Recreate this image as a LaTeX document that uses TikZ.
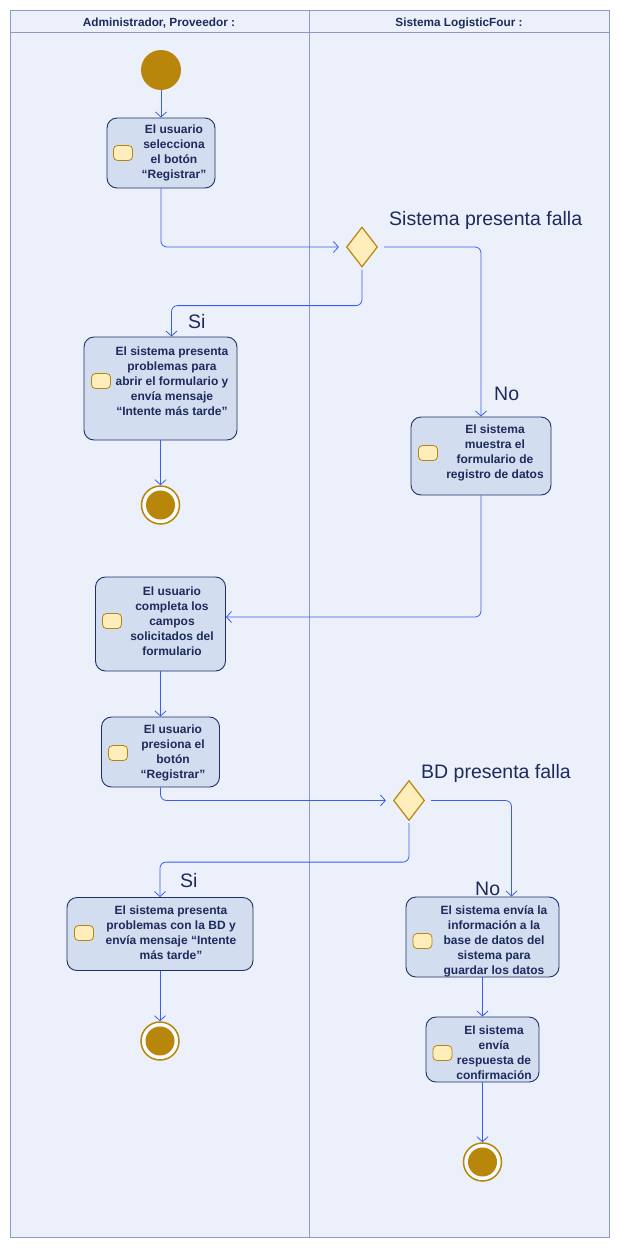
\documentclass[tikz,border=0pt]{standalone}
\usepackage{fontspec}
\setmainfont{Liberation Sans}
\usetikzlibrary{arrows.meta,shapes.geometric}
\definecolor{fondo}{HTML}{ECF0FA}
\definecolor{carril}{HTML}{8D9BC2}
\definecolor{cajafill}{HTML}{D3DDF0}
\definecolor{cajaborde}{HTML}{1F3064}
\definecolor{flecha}{HTML}{3A5EF2}
\definecolor{oro}{HTML}{B8860B}
\definecolor{crema}{HTML}{FFEEBB}
\definecolor{azultexto}{HTML}{1C2B5C}
\tikzset{
	act/.style={draw=cajaborde, fill=cajafill, rounded corners=10pt, line width=0.9pt, inner sep=0pt},
	acttexto/.style={font=\bfseries\fontsize{12}{15}\selectfont, text=azultexto, align=center, inner sep=0pt},
	icono/.style={draw=oro, fill=crema, rounded corners=4pt, minimum width=19pt, minimum height=15pt, inner sep=0pt, line width=0.8pt},
	inicio/.style={circle, fill=oro, minimum size=40pt, inner sep=0pt},
	fin/.style={circle, draw=oro, line width=1.5pt, fill=white!85!fondo, minimum size=38pt, inner sep=0pt,
		path picture={\fill[oro] (path picture bounding box.center) circle (14.5pt);}},
	decision/.style={diamond, draw=oro, fill=crema, line width=1.2pt, minimum width=31pt, minimum height=40pt, inner sep=0pt},
	flujo/.style={->, draw=flecha, line width=0.8pt, rounded corners=6pt},
	guarda/.style={font=\fontsize{19.5}{22}\selectfont, text=azultexto, inner sep=0pt},
	carriltexto/.style={font=\bfseries\fontsize{11.8}{14}\selectfont, text=azultexto, inner sep=0pt}
}
\begin{document}
\begin{tikzpicture}[x=1pt,y=-1pt,>={Straight Barb[length=5pt,width=11pt]}]
	\useasboundingbox (0,0) rectangle (620,1248);
	% carriles
	\draw[carril, fill=fondo, line width=0.9pt] (10.5,10.5) rectangle (609,1237);
	\draw[carril, line width=0.9pt] (10.5,32) -- (609,32)
		(309,10.5) -- (309,1237);
	\node[carriltexto, anchor=base] (c1) at (159,26) {Administrador, Proveedor :};
	\node[carriltexto, anchor=base] (c2) at (459,26) {Sistema LogisticFour :};
	% nodos
	\node[inicio] (ini) at (161,70) {};
	\node[act, minimum width=108pt, minimum height=70pt] (b1) at (161,153) {};
	\node[icono] (i1) at (123,153) {};
	\node[acttexto] (t1) at (174,153) {El usuario\\selecciona\\el botón\\“Registrar”};
	\node[decision] (d1) at (362,247) {};
	\node[guarda, anchor=base west] (g1) at (389,225) {Sistema presenta falla};
	\node[act, minimum width=153pt, minimum height=103pt] (b2) at (160.5,388.5) {};
	\node[icono] (i2) at (101,381) {};
	\node[acttexto] (t2) at (172,381) {El sistema presenta\\problemas para\\abrir el formulario y\\envía mensaje\\“Intente más tarde”};
	\node[guarda, anchor=base west] (g2) at (188,328) {Si};
	\node[fin] (f1) at (160.5,505) {};
	\node[act, minimum width=140pt, minimum height=78pt] (b3) at (481,456) {};
	\node[icono] (i3) at (428,453) {};
	\node[acttexto] (t3) at (495,453) {El sistema\\muestra el\\formulario de\\registro de datos};
	\node[guarda, anchor=base west] (g3) at (494,400) {No};
	\node[act, minimum width=130pt, minimum height=94pt] (b4) at (160.5,624) {};
	\node[icono] (i4) at (112,621) {};
	\node[acttexto] (t4) at (172,621) {El usuario\\completa los\\campos\\solicitados del\\formulario};
	\node[act, minimum width=118pt, minimum height=70pt] (b5) at (160.5,752) {};
	\node[icono] (i5) at (118,753) {};
	\node[acttexto] (t5) at (173,753) {El usuario\\presiona el\\botón\\“Registrar”};
	\node[decision] (d2) at (409,800.5) {};
	\node[guarda, anchor=base west] (g4) at (421,778) {BD presenta falla};
	\node[act, minimum width=186pt, minimum height=73pt] (b6) at (160,934) {};
	\node[icono] (i6) at (84,933) {};
	\node[acttexto] (t6) at (171,933) {El sistema presenta\\problemas con la BD y\\envía mensaje “Intente\\más tarde”};
	\node[guarda, anchor=base west] (g5) at (180,887.5) {Si};
	\node[fin] (f2) at (160,1041) {};
	\node[act, minimum width=153pt, minimum height=80pt] (b7) at (482.5,937) {};
	\node[icono] (i7) at (422.5,941) {};
	\node[acttexto] (t7) at (494,941) {El sistema envía la\\información a la\\base de datos del\\sistema para\\guardar los datos};
	\node[guarda, anchor=base west] (g6) at (475,895) {No};
	\node[act, minimum width=113pt, minimum height=65pt] (b8) at (482.5,1049.5) {};
	\node[icono] (i8) at (442.5,1053) {};
	\node[acttexto] (t8) at (494,1053) {El sistema\\envía\\respuesta de\\confirmación};
	\node[fin] (f3) at (482.5,1162) {};
	% flujos
	\draw[flujo] (ini.south) -- (b1.north);
	\draw[flujo] (b1.south) |- ([xshift=-7pt]d1.west);
	\draw[flujo] ([xshift=6pt]d1.east) -| (b3.north);
	\draw[flujo] ([yshift=-2pt]d1.south) -- ++(0,36) -| ([xshift=11pt]b2.north);
	\draw[flujo] (b2.south) -- (f1.north);
	\draw[flujo] (b3.south) |- ([yshift=7pt]b4.east);
	\draw[flujo] (b4.south) -- (b5.north);
	\draw[flujo] (b5.south) |- ([xshift=-7pt]d2.west);
	\draw[flujo] ([xshift=6pt]d2.east) -| ([xshift=29pt]b7.north);
	\draw[flujo] ([yshift=-2pt]d2.south) -- ++(0,39) -| (b6.north);
	\draw[flujo] (b6.south) -- (f2.north);
	\draw[flujo] (b7.south) -- (b8.north);
	\draw[flujo] (b8.south) -- (f3.north);
\end{tikzpicture}
\end{document}
